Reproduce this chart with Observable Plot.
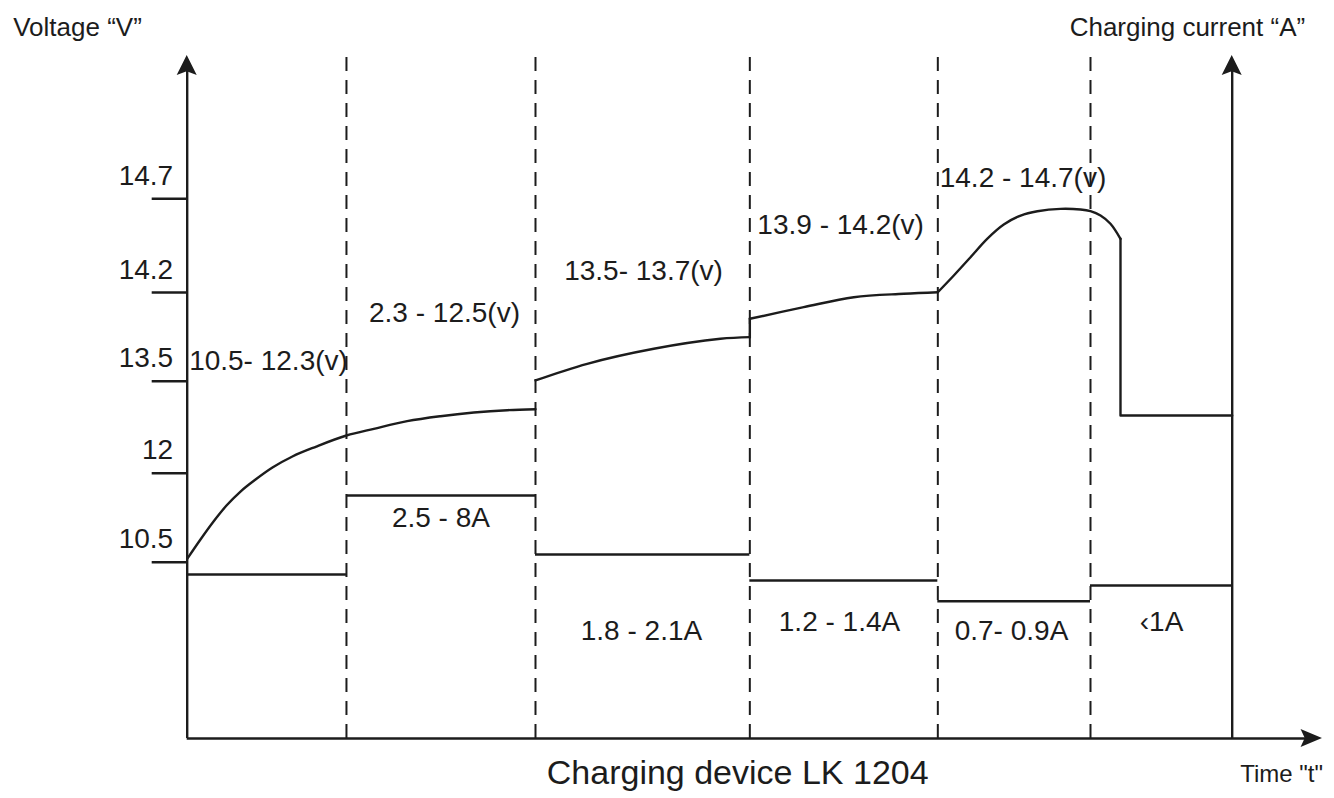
<!DOCTYPE html>
<html>
<head>
<meta charset="utf-8">
<script src="https://cdn.jsdelivr.net/npm/d3@7"></script>
<script src="https://cdn.jsdelivr.net/npm/@observablehq/plot@0.6"></script>
<style>
  body { margin: 0; background: #fff; }
  #chart svg { display: block; }
</style>
</head>
<body>
<div id="chart"></div>
<script>
// ---- Data (time in % of charge cycle, level in % of axis height) ----
const stageBounds = [15.24, 33.33, 53.84, 71.83, 86.44];

const voltTickPos = [25.81, 38.84, 52.31, 65.30, 79.02];
const voltTickLabels = ["10.5", "12", "13.5", "14.2", "14.7"];

const voltStage12 = [[0, 26.31], [1.27, 29.14], [2.52, 31.77], [3.76, 34.11], [5.10, 36.16], [6.54, 37.92],
  [8.16, 39.68], [10.07, 41.29], [12.36, 42.75], [15.24, 44.36], [17.86, 45.34], [21.05, 46.46],
  [24.24, 47.19], [27.43, 47.73], [30.62, 48.07], [33.33, 48.21]];
const voltStage3 = [[33.33, 52.42], [38.28, 54.86], [44.65, 57.06], [51.03, 58.52], [53.84, 58.76]];
const voltStep34 = [[53.84, 58.76], [53.84, 61.45]];
const voltStage4 = [[53.84, 61.45], [59.00, 63.15], [63.79, 64.61], [68.57, 65.11], [71.83, 65.34]];
const voltStage5 = [[71.83, 65.34], [73.36, 67.79], [74.96, 70.47], [76.55, 73.16], [78.14, 75.26],
  [79.76, 76.57], [81.36, 77.20], [83.57, 77.55], [85.49, 77.45], [86.44, 77.20], [87.40, 76.57],
  [88.35, 75.36], [89.31, 73.16]];
const voltFloat = [[89.31, 73.16], [89.31, 47.29], [100, 47.29]];

const currentStart = [0, 15.24, 33.33, 53.84, 71.83, 86.44];
const currentEnd = [15.24, 33.33, 53.84, 71.83, 86.44, 100];
const currentLevel = [24.01, 35.58, 26.94, 23.13, 20.10, 22.40];

const voltLabels = ["10.5- 12.3(v)", "2.3 - 12.5(v)", "13.5- 13.7(v)", "13.9 - 14.2(v)", "14.2 - 14.7(v)"];
const voltLabelT = [7.78, 24.62, 43.67, 62.53, 79.98];
const voltLabelY = [53.88, 60.95, 67.06, 73.89, 80.72];

const currentLabels = ["2.5 - 8A", "1.8 - 2.1A", "1.2 - 1.4A", "0.7- 0.9A", "\u20391A"];
const currentLabelT = [24.28, 43.47, 62.42, 78.88, 93.24];
const currentLabelY = [30.94, 14.35, 15.67, 14.35, 15.67];

// ---- Layout ----
const INK = "#1c1c1c";
const FONT = "'Liberation Sans', Arial, sans-serif";
const Y_TOP = 100;       // vertical axes end
const X_END = 108.64;    // time axis end
const DASH_TOP = 100.4;

// arrowhead helpers (derived from axis end points)
const AH = {hw: 0.957, hl: 2.93, notch: 0.55, rhl: 2.05, rhw: 1.32, rnotch: 0.4};
function upHead(x, tip) {
  const b = tip - AH.hl;
  return [
    {x: x - AH.hw, y1: b, y2: b},
    {x: x, y1: b + AH.notch, y2: tip},
    {x: x + AH.hw, y1: b, y2: b}
  ];
}
function rightHead(y, tip) {
  const b = tip - AH.rhl;
  return [
    {y: y - AH.rhw, x1: b, x2: b},
    {y: y, x1: b + AH.rnotch, x2: tip},
    {y: y + AH.rhw, x1: b, x2: b}
  ];
}

const px = d => d[0], py = d => d[1];
const lineOpts = {x: px, y: py, stroke: INK, strokeWidth: 2.4, strokeLinejoin: "round", strokeLinecap: "round"};

const chart = Plot.plot({
  width: 1334,
  height: 798,
  marginLeft: 186.7,
  marginRight: 102.3,
  marginTop: 55,
  marginBottom: 60,
  x: {domain: [0, 100], axis: null},
  y: {domain: [0, 100], axis: null},
  style: {fontFamily: FONT, background: "#fff", color: INK},
  marks: [
    // stage boundaries
    Plot.ruleX(stageBounds, {x: d => d, y1: 0, y2: DASH_TOP, stroke: INK, strokeWidth: 2, strokeDasharray: "14,9"}),
    // axes
    Plot.ruleX([0, 100], {x: d => d, y1: 0, y2: Y_TOP - 1, stroke: INK, strokeWidth: 2.4}),
    Plot.ruleY([0], {y: d => d, x1: 0, x2: X_END - 1, stroke: INK, strokeWidth: 2.4}),
    Plot.areaY(upHead(0, Y_TOP), {x: "x", y1: "y1", y2: "y2", fill: INK, curve: "linear"}),
    Plot.areaY(upHead(100, Y_TOP), {x: "x", y1: "y1", y2: "y2", fill: INK, curve: "linear"}),
    Plot.areaX(rightHead(0, X_END), {y: "y", x1: "x1", x2: "x2", fill: INK, curve: "linear"}),
    // voltage ticks
    Plot.ruleY(voltTickPos, {y: d => d, x1: -3.35, x2: 0, stroke: INK, strokeWidth: 2.4}),
    Plot.text(voltTickLabels, {x: 0, y: (d, i) => voltTickPos[i], text: d => d, textAnchor: "end",
      lineAnchor: "bottom", dx: -14, dy: -14, fontSize: 28, fill: INK, fontFamily: FONT}),
    // current levels
    Plot.ruleY(currentLevel, {y: d => d, x1: (d, i) => currentStart[i], x2: (d, i) => currentEnd[i],
      stroke: INK, strokeWidth: 2.4}),
    // voltage curve
    Plot.line(voltStage12, {...lineOpts, curve: "monotone-x"}),
    Plot.line(voltStage3, {...lineOpts, curve: "catmull-rom"}),
    Plot.line(voltStep34, {...lineOpts, curve: "linear"}),
    Plot.line(voltStage4, {...lineOpts, curve: "catmull-rom"}),
    Plot.line(voltStage5, {...lineOpts, curve: "catmull-rom"}),
    Plot.line(voltFloat, {...lineOpts, curve: "linear"}),
    // labels
    Plot.text(voltLabels, {x: (d, i) => voltLabelT[i], y: (d, i) => voltLabelY[i], text: d => d,
      lineAnchor: "bottom", fontSize: 28, fill: INK, fontFamily: FONT}),
    Plot.text(currentLabels, {x: (d, i) => currentLabelT[i], y: (d, i) => currentLabelY[i], text: d => d,
      lineAnchor: "bottom", fontSize: 28, fill: INK, fontFamily: FONT}),
    // axis titles
    Plot.text(["Voltage \u201CV\u201D"], {frameAnchor: "top-left", dx: -174, dy: -20, lineAnchor: "bottom",
      textAnchor: "start", fontSize: 26, fill: INK, fontFamily: FONT}),
    Plot.text(["Charging current \u201CA\u201D"], {frameAnchor: "top-right", dx: 73, dy: -20, lineAnchor: "bottom",
      textAnchor: "end", fontSize: 26, fill: INK, fontFamily: FONT}),
    Plot.text(["Time \"t\""], {frameAnchor: "bottom-right", dx: 8, dy: 43, lineAnchor: "bottom",
      textAnchor: "start", fontSize: 24, fill: INK, fontFamily: FONT}),
    Plot.text(["Charging device LK 1204"], {frameAnchor: "bottom", dx: 28, dy: 45, lineAnchor: "bottom",
      fontSize: 34, fill: INK, fontFamily: FONT})
  ]
});
document.getElementById("chart").appendChild(chart);
</script>
</body>
</html>
